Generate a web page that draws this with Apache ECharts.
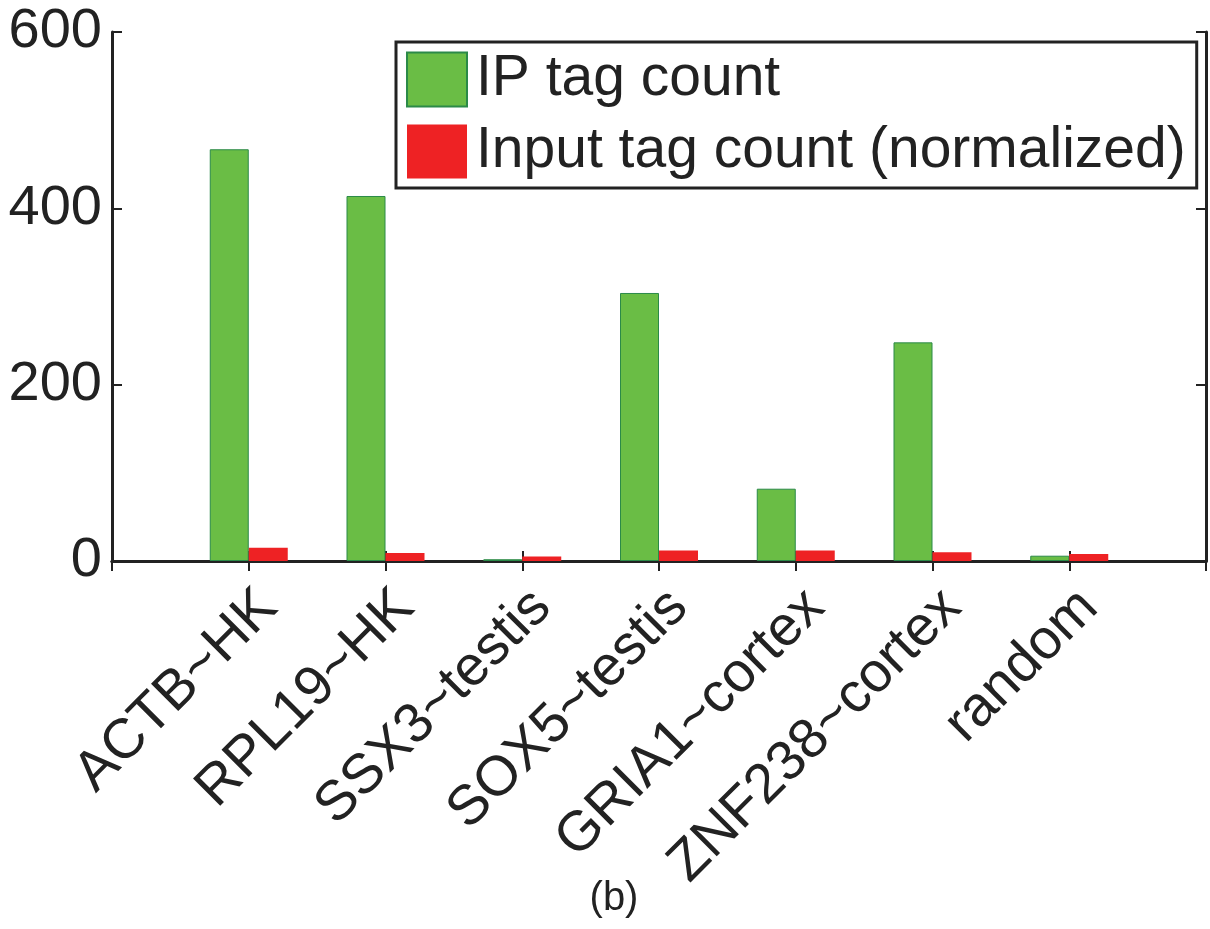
<!DOCTYPE html>
<html>
<head>
<meta charset="utf-8">
<script src="https://cdn.jsdelivr.net/npm/echarts@6/dist/echarts.min.js"></script>
<style>
  html, body { margin: 0; padding: 0; background: #fff; }
  #chart { width: 1210px; height: 929px; }
</style>
</head>
<body>
<div id="chart"></div>
<script>
// categories and values
const categories = ['ACTB~HK', 'RPL19~HK', 'SSX3~testis', 'SOX5~testis', 'GRIA1~cortex', 'ZNF238~cortex', 'random'];
const ipTagCount = [467, 414, 2, 304, 82, 248, 6];
const inputTagCount = [15, 9, 5, 12, 12, 10, 8];
const yTicks = [0, 200, 400, 600];

const FONT = '"Liberation Sans", Arial, Helvetica, sans-serif';
const INK = '#222';

// empty slots at both ends so the categories sit at 1..7 of a 0..8 axis
const axisCats = [''].concat(categories, ['']);
const pad = arr => [null].concat(arr, [null]);

const chart = echarts.init(document.getElementById('chart'));

const axisLine = { show: true, lineStyle: { color: INK, width: 3 } };
const axisTickIn = { show: true, inside: true, length: 10, lineStyle: { color: INK, width: 2 } };

const option = {
    animation: false,
    backgroundColor: '#fff',
    title: {
        text: '(b)',
        left: 609,
        top: 874,
        textAlign: 'center',
        textStyle: { fontFamily: FONT, fontSize: 40, fontWeight: 'normal', color: INK }
    },
    legend: {
        orient: 'vertical',
        left: 396,
        top: 42,
        padding: [9, 11, 8, 10],
        borderColor: INK,
        borderWidth: 3,
        backgroundColor: '#fff',
        itemWidth: 60,
        itemHeight: 54,
        itemGap: 15,
        icon: 'rect',
        selectedMode: false,
        textStyle: {
            fontFamily: FONT, fontSize: 57, color: INK,
            lineHeight: 54, padding: [0, 0, 0, 4]
        },
        data: ['IP tag count', 'Input tag count (normalized)']
    },
    grid: { left: 112, right: 4, top: 32, bottom: 368 },
    xAxis: [
        {
            type: 'category',
            data: axisCats,
            boundaryGap: false,
            position: 'bottom',
            axisLine: axisLine,
            axisTick: axisTickIn,
            axisLabel: {
                interval: 0,
                rotate: 45,
                margin: 18,
                verticalAlign: 'top',
                fontFamily: FONT,
                fontSize: 56,
                color: INK
            }
        },
        {
            type: 'category',
            data: axisCats,
            boundaryGap: false,
            position: 'top',
            axisLine: axisLine,
            axisTick: axisTickIn,
            axisLabel: { show: false }
        }
    ],
    yAxis: [
        {
            type: 'value',
            min: yTicks[0],
            max: yTicks[yTicks.length - 1],
            interval: 200,
            position: 'left',
            axisLine: axisLine,
            axisTick: axisTickIn,
            splitLine: { show: false },
            axisLabel: { margin: 10, fontFamily: FONT, fontSize: 56, color: INK }
        },
        {
            type: 'value',
            min: yTicks[0],
            max: yTicks[yTicks.length - 1],
            interval: 200,
            position: 'right',
            axisLine: axisLine,
            axisTick: axisTickIn,
            splitLine: { show: false },
            axisLabel: { show: false }
        }
    ],
    series: [
        {
            name: 'IP tag count',
            type: 'bar',
            xAxisIndex: 0,
            yAxisIndex: 0,
            barWidth: 39,
            barGap: '0%',
            itemStyle: { color: '#6abd45', borderColor: '#2b8a48', borderWidth: 1 },
            data: pad(ipTagCount)
        },
        {
            name: 'Input tag count (normalized)',
            type: 'bar',
            xAxisIndex: 0,
            yAxisIndex: 0,
            barWidth: 39,
            barGap: '0%',
            itemStyle: { color: '#ee2224' },
            data: pad(inputTagCount)
        }
    ]
};

chart.setOption(option);
</script>
</body>
</html>
